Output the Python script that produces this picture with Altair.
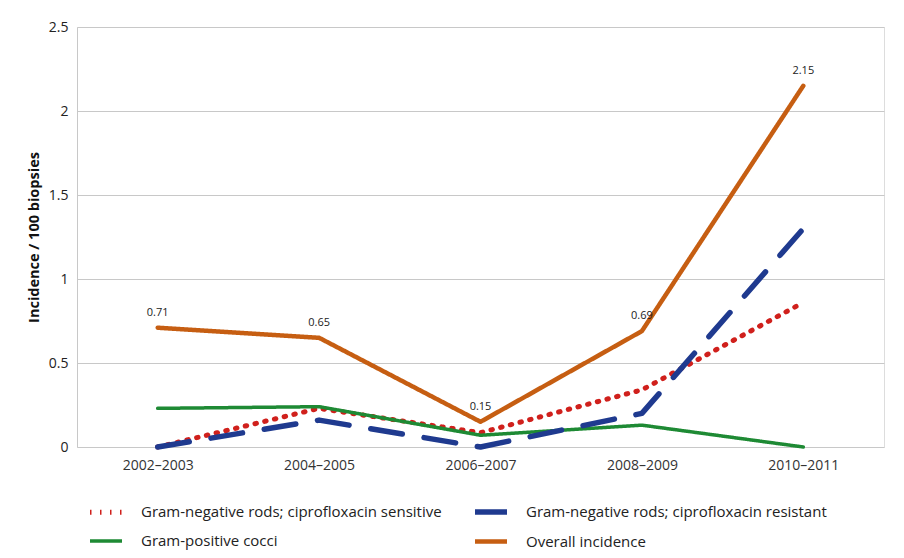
import altair as alt
import pandas as pd

periods = ["2002–2003", "2004–2005", "2006–2007", "2008–2009", "2010–2011"]
# legend order (filled column by column): sensitive, positive | resistant, overall
series_names = [
    "Gram-negative rods; ciprofloxacin sensitive",
    "Gram-positive cocci",
    "Gram-negative rods; ciprofloxacin resistant",
    "Overall incidence",
]
gn_sensitive = [0.0, 0.23, 0.085, 0.34, 0.86]
gp_cocci = [0.23, 0.24, 0.07, 0.13, 0.0]
gn_resistant = [0.0, 0.16, 0.0, 0.20, 1.30]
overall = [0.71, 0.65, 0.15, 0.69, 2.15]
overall_labels = ["0.71", "0.65", "0.15", "0.69", "2.15"]

colors = ["#d0201c", "#1e8a34", "#1f3a8f", "#c65e12"]
dashes = [[1.5, 8.5], [1, 0], [32, 22], [1, 0]]
widths = [5, 3.5, 5.5, 4.5]

rows = []
for name, vals in zip(series_names, [gn_sensitive, gp_cocci, gn_resistant, overall]):
    for p, v in zip(periods, vals):
        rows.append({"period": p, "value": v, "series": name})
df = pd.DataFrame(rows)
lab = pd.DataFrame({"period": periods, "value": overall, "label": overall_labels})

FONT = "Open Sans"


def make_legend():
    return alt.Legend(title=None, orient="none", legendX=10, legendY=466,
                      columns=2, columnPadding=22, rowPadding=-10,
                      symbolType="stroke", symbolSize=1024,
                      labelFontSize=15, labelFont=FONT, labelLimit=500,
                      labelColor="#222222", labelOffset=16)


x = alt.X("period:N", sort=periods, title=None,
          scale=alt.Scale(paddingInner=1, paddingOuter=0.5),
          axis=alt.Axis(labelAngle=0, ticks=False, domain=False, grid=False,
                        labelFontSize=14, labelColor="#333333", labelPadding=11,
                        labelFont=FONT))
y = alt.Y("value:Q", title="Incidence / 100 biopsies",
          scale=alt.Scale(domain=[0, 2.5], nice=False),
          axis=alt.Axis(values=[0, 0.5, 1, 1.5, 2, 2.5], ticks=False, domain=True,
                        format="~g",
                        domainColor="#c8c8c8", gridColor="#c8c8c8", labelFontSize=14,
                        labelColor="#222222", labelPadding=9, labelFont=FONT,
                        titleFont=FONT, titleFontSize=14.5, titleFontWeight="bold",
                        titleColor="#111111", titlePadding=7))

lines = alt.Chart(df).mark_line(strokeCap="round", strokeJoin="round").encode(
    x=x, y=y,
    color=alt.Color("series:N", sort=series_names,
                    scale=alt.Scale(domain=series_names, range=colors),
                    legend=make_legend()),
    strokeDash=alt.StrokeDash("series:N", sort=series_names,
                              scale=alt.Scale(domain=series_names, range=dashes),
                              legend=make_legend()),
    strokeWidth=alt.StrokeWidth("series:N", sort=series_names,
                                scale=alt.Scale(type="ordinal", domain=series_names, range=widths),
                                legend=make_legend()),
)

texts = alt.Chart(lab).mark_text(dy=-15, fontSize=11, font=FONT, color="#222222").encode(
    x=alt.X("period:N", sort=periods), y="value:Q", text="label:N")

chart = alt.layer(lines, texts).properties(
    width=807, height=420,
    autosize=alt.AutoSizeParams(type="none"),
    padding={"left": 69, "top": 19, "right": 12, "bottom": 103},
).configure_view(stroke=None).configure(background="white")

chart.save("out.html", embed_options={"renderer": "svg", "actions": False})
